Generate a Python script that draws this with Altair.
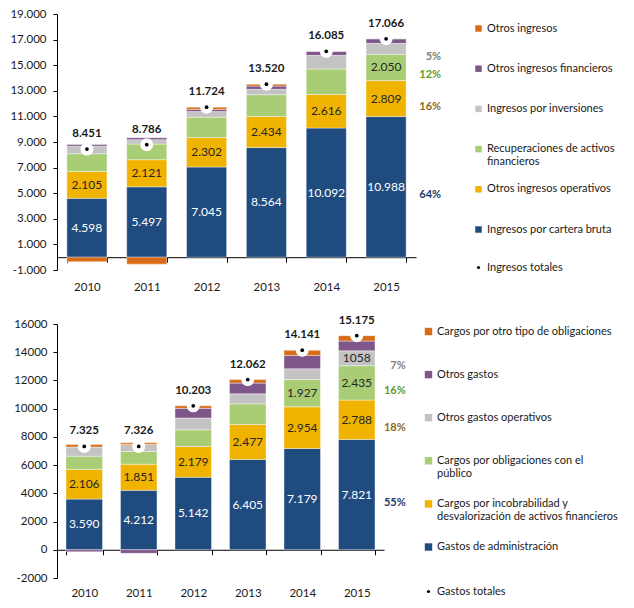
import json
import altair as alt
import pandas as pd

FONT = "Lato"
years = ["2010", "2011", "2012", "2013", "2014", "2015"]

# ---------------- Ingresos (top) ----------------
ing_series = ["Ingresos por cartera bruta", "Otros ingresos operativos",
              "Recuperaciones de activos financieros", "Ingresos por inversiones",
              "Otros ingresos financieros", "Otros ingresos"]
ing_cartera = [4598, 5497, 7045, 8564, 10092, 10988]
ing_operativos = [2105, 2121, 2302, 2434, 2616, 2809]
ing_recuperaciones = [1380, 1220, 1590, 1700, 2000, 2050]
ing_inversiones = [590, 340, 440, 420, 1060, 860]
ing_financieros = [130, 150, 170, 250, 317, 359]
ing_otros = [-352, -542, 177, 152, 0, 0]
ing_totales = [8451, 8786, 11724, 13520, 16085, 17066]
ing_pct = ["64%", "16%", "12%", "5%", "", ""]
# 0 = no label, 1 = label with thousands separator, 2 = plain label
ing_flags = [[1, 1, 1, 1, 1, 1], [1, 1, 1, 1, 1, 1], [0, 0, 0, 0, 0, 1],
             [0, 0, 0, 0, 0, 0], [0, 0, 0, 0, 0, 0], [0, 0, 0, 0, 0, 0]]

# ---------------- Gastos (bottom) ----------------
gas_series = ["Gastos de administración",
              "Cargos por incobrabilidad y desvalorización de activos financieros",
              "Cargos por obligaciones con el público", "Otros gastos operativos",
              "Otros gastos", "Cargos por otro tipo de obligaciones"]
gas_admin = [3590, 4212, 5142, 6405, 7179, 7821]
gas_incob = [2106, 1851, 2179, 2477, 2954, 2788]
gas_oblig = [940, 900, 1180, 1460, 1927, 2435]
gas_operativos = [650, 500, 830, 710, 770, 1058]
gas_otros = [-140, -250, 690, 760, 945, 690]
gas_otro_tipo = [179, 113, 182, 250, 366, 383]
gas_totales = [7325, 7326, 10203, 12062, 14141, 15175]
gas_pct = ["55%", "18%", "16%", "7%", "", ""]
gas_flags = [[1, 1, 1, 1, 1, 1], [1, 1, 1, 1, 1, 1], [0, 0, 0, 0, 1, 1],
             [0, 0, 0, 0, 0, 2], [0, 0, 0, 0, 0, 0], [0, 0, 0, 0, 0, 0]]

seg_colors = ["#1F4B7F", "#F0B300", "#A9CD75", "#C3C3C3", "#7F568A", "#D96C16"]
text_colors = ["#FFFFFF", "#262626", "#262626", "#262626", "#262626", "#262626"]
pct_colors = ["#1F3864", "#8C6A1E", "#5E9A2E", "#808080", "#808080", "#808080"]

NB = "\u2007\u2007"
ing_legend_lines = {
    "Otros ingresos": ["Otros ingresos", ""],
    "Otros ingresos financieros": [NB + "Otros ingresos financieros", ""],
    "Ingresos por inversiones": [NB + "Ingresos por inversiones", ""],
    "Recuperaciones de activos financieros": ["Recuperaciones de activos", "financieros"],
    "Otros ingresos operativos": ["Otros ingresos operativos", ""],
    "Ingresos por cartera bruta": [NB + "Ingresos por cartera bruta", ""],
}
gas_legend_lines = {
    "Cargos por otro tipo de obligaciones": [NB + "Cargos por otro tipo de obligaciones", ""],
    "Otros gastos": ["Otros gastos", ""],
    "Otros gastos operativos": ["Otros gastos operativos", ""],
    "Cargos por obligaciones con el público": [NB + "Cargos por obligaciones con el", "público"],
    "Cargos por incobrabilidad y desvalorización de activos financieros":
        ["Cargos por incobrabilidad y", "desvalorización de activos financieros"],
    "Gastos de administración": ["Gastos de administración", ""],
}


def build_df(series, values, flags, pcts):
    rows = []
    for si, name in enumerate(series):
        for yi, yr in enumerate(years):
            rows.append(dict(year=yr, series=name, order=si, value=values[si][yi],
                             flag=flags[si][yi], tcolor=text_colors[si],
                             pct=pcts[si] if yr == years[-1] else "",
                             pcolor=pct_colors[si]))
    return pd.DataFrame(rows)


def legend_expr(lines_map):
    expr = "datum.label"
    for name, lines in lines_map.items():
        expr = (f"datum.label === {json.dumps(name, ensure_ascii=False)} ? "
                f"{json.dumps(lines, ensure_ascii=False)} : ({expr})")
    return expr


def panel(df, totals, total_name, series, lines_map, ydom, yticks, ylabel_expr,
          width, height, legend_x, legend_y, row_pad, label_limit, tot_legend_y,
          pct_dx, xlabel_pad, bar_label_size, sym_size, ylabel_pad):
    off = height * (0 - ydom[0]) / (ydom[1] - ydom[0])
    xscale = alt.Scale(paddingInner=0.33, paddingOuter=0.165)
    xaxis = alt.Axis(title=None, labelAngle=0, offset=-off, tickBand="extent", tickSize=5,
                     domainColor="black", tickColor="black", labelFont=FONT,
                     labelFontSize=11.5, labelColor="#1a1a1a", labelPadding=xlabel_pad,
                     grid=False)
    yscale = alt.Scale(domain=ydom, nice=False, zero=False)
    yaxis = alt.Axis(title=None, values=yticks, labelExpr=ylabel_expr, grid=False,
                     domainColor="black", tickColor="black", tickSize=4, labelFont=FONT,
                     labelFontSize=11.5, labelColor="#1a1a1a", labelPadding=ylabel_pad)

    def X():
        return alt.X("year:N", scale=xscale, axis=xaxis)

    def Y(field, **kw):
        return alt.Y(field, scale=yscale, axis=yaxis, **kw)

    dom = list(reversed(series))
    rng = list(reversed(seg_colors))

    bars = alt.Chart(df).mark_bar(stroke="white", strokeWidth=0.4).encode(
        x=X(),
        y=Y("value:Q", stack="zero"),
        color=alt.Color("series:N", scale=alt.Scale(domain=dom, range=rng),
                        legend=alt.Legend(title=None, orient="none", legendX=legend_x,
                                          legendY=legend_y, symbolType="square",
                                          symbolSize=sym_size, symbolStrokeWidth=0,
                                          labelFont=FONT, labelFontSize=11,
                                          labelColor="#1a1a1a", labelLimit=label_limit,
                                          labelExpr=legend_expr(lines_map),
                                          rowPadding=row_pad, labelOffset=3, padding=0)),
        order=alt.Order("order:Q", sort="ascending"),
    )

    stacked = alt.Chart(df).transform_stack(
        stack="value", groupby=["year"], as_=["v0", "v1"],
        sort=[alt.SortField("order", order="ascending")]
    ).transform_calculate(mid="(datum.v0 + datum.v1) / 2")

    seg = stacked.transform_filter("datum.flag > 0").transform_calculate(
        txt="datum.flag == 1 ? replace(format(datum.value, ','), ',', '.') : format(datum.value, 'd')"
    ).mark_text(font=FONT, fontSize=bar_label_size).encode(
        x=X(), y=Y("mid:Q"), text="txt:N", color=alt.Color("tcolor:N", scale=None)
    )

    pct = stacked.transform_filter("datum.pct != ''").mark_text(
        font=FONT, fontSize=11, fontWeight="bold", align="right", dx=pct_dx, dy=8
    ).encode(x=X(), y=Y("mid:Q"), text="pct:N", color=alt.Color("pcolor:N", scale=None))

    tdf = pd.DataFrame(dict(year=years, total=totals, name=[total_name] * len(years)))
    white = alt.Chart(tdf).mark_circle(color="white", size=170, opacity=1).encode(
        x=X(), y=Y("total:Q"))
    dot = alt.Chart(tdf).mark_point(filled=True, color="black", size=14, opacity=1).encode(
        x=X(), y=Y("total:Q"),
        shape=alt.Shape("name:N", scale=alt.Scale(domain=[total_name], range=["circle"]),
                        legend=alt.Legend(title=None, orient="none", legendX=legend_x,
                                          legendY=tot_legend_y, symbolSize=10,
                                          symbolFillColor="black", symbolStrokeColor="black",
                                          labelFont=FONT, labelFontSize=11,
                                          labelColor="#1a1a1a", labelOffset=3, padding=0)))
    ttxt = alt.Chart(tdf).transform_calculate(
        txt="replace(format(datum.total, ','), ',', '.')"
    ).mark_text(font=FONT, fontSize=11.5, fontWeight="bold", color="#1a1a1a", dy=-15).encode(
        x=X(), y=Y("total:Q"), text="txt:N")

    return alt.layer(bars, seg, pct, white, dot, ttxt).resolve_scale(
        color="independent").properties(width=width, height=height)


ing_df = build_df(ing_series,
                  [ing_cartera, ing_operativos, ing_recuperaciones, ing_inversiones,
                   ing_financieros, ing_otros], ing_flags, ing_pct)
gas_df = build_df(gas_series,
                  [gas_admin, gas_incob, gas_oblig, gas_operativos, gas_otros, gas_otro_tipo],
                  gas_flags, gas_pct)

top = panel(ing_df, ing_totales, "Ingresos totales", ing_series, ing_legend_lines,
            [-1000, 19000], list(range(-1000, 19001, 2000)),
            "replace(replace(format(datum.value, ',d'), ',', '.'), '\u2212', '-')",
            359, 256, 416, 9, 15.2, 140, 248, 55, 19, 12, 42, 7)
bottom = panel(gas_df, gas_totales, "Gastos totales", gas_series, gas_legend_lines,
               [-2000, 16000], list(range(-2000, 16001, 2000)),
               "replace(format(datum.value, 'd'), '\u2212', '-')",
               327, 254, 366, 2, 18.1, 196, 262, 49, 33, 12, 55, 6)

chart = alt.vconcat(top, bottom, spacing=21).resolve_scale(
    color="independent", shape="independent"
).resolve_legend(color="independent", shape="independent").configure_view(
    stroke=None).properties(padding={"left": 1, "top": 0, "right": 0, "bottom": 0})

chart.save("out.html", embed_options={"renderer": "svg", "actions": False})
